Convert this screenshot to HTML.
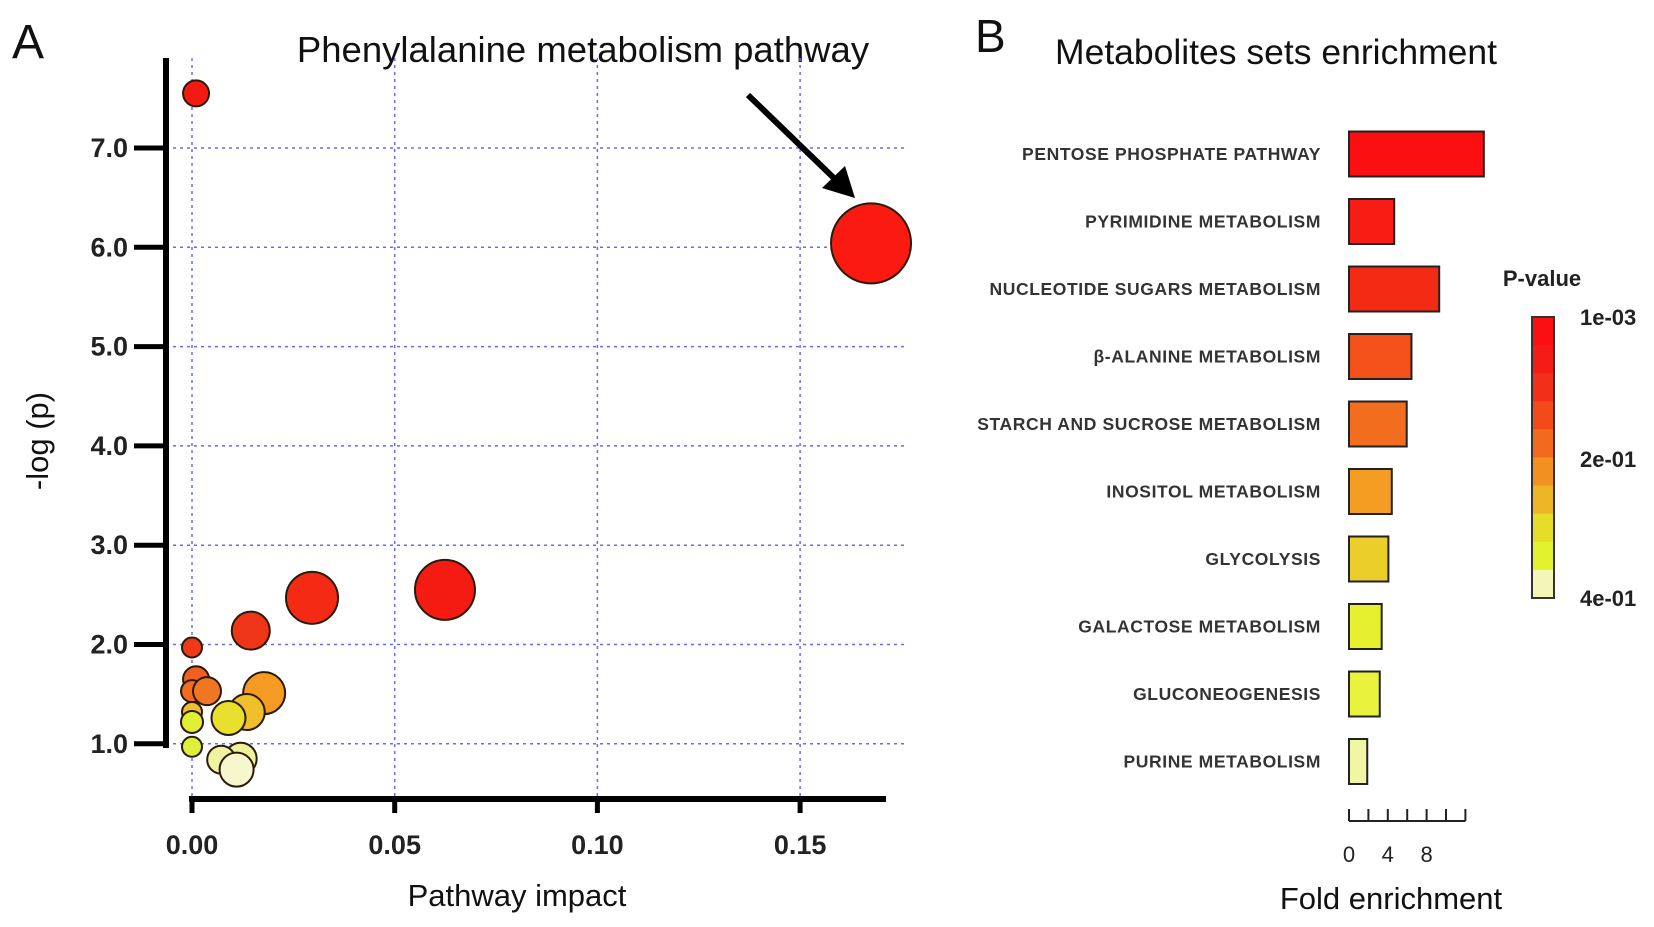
<!DOCTYPE html>
<html><head><meta charset="utf-8"><style>
html,body{margin:0;padding:0;background:#fff;}
svg{display:block;font-family:"Liberation Sans",sans-serif;}
</style></head><body>
<svg id="fig" width="1654" height="927" viewBox="0 0 1654 927">
<text x="12" y="58" font-size="48" fill="#111">A</text>
<text x="583" y="62" font-size="36.5" text-anchor="middle" fill="#111">Phenylalanine metabolism pathway</text>
<text x="975" y="52" font-size="46" fill="#111">B</text>
<text x="1276" y="64" font-size="35.5" font-weight="500" text-anchor="middle" fill="#111">Metabolites sets enrichment</text>
<g id="gA"></g>
<g id="gB"></g>
</svg>
<script>
// Panel A data
const bubX = [0.001,0.1675,0.0624,0.0296,0.0145,0.0,0.001,0.0,0.0037,0.0178,0.0135,0.009,0.0,0.0,0.0,0.012,0.0072,0.011];
const bubY = [7.55,6.04,2.55,2.47,2.14,1.97,1.65,1.53,1.53,1.51,1.32,1.26,1.32,1.22,0.97,0.85,0.84,0.74];
const bubR = [13,40,30,26,19,10,13,11,14,21,18,17,10,11,10,16,14,17];
const bubC = ["#f41a12","#fa1a12","#f51a12","#f52a14","#ef3517","#ee3a18","#f06020","#f36b1e","#f07722","#f59a22","#f0c02c","#e8e02c","#e9c030","#e0ef34","#def03a","#eef39a","#eef3a0","#f6f7cc"];
const xTicks = [0,0.05,0.1,0.15];
const xTickLabels = ["0.00","0.05","0.10","0.15"];
const yTicks = [1,2,3,4,5,6,7];
const yTickLabels = ["1.0","2.0","3.0","4.0","5.0","6.0","7.0"];
// Panel B data
const cats = ["PENTOSE PHOSPHATE PATHWAY","PYRIMIDINE METABOLISM","NUCLEOTIDE SUGARS METABOLISM","β-ALANINE METABOLISM","STARCH AND SUCROSE METABOLISM","INOSITOL METABOLISM","GLYCOLYSIS","GALACTOSE METABOLISM","GLUCONEOGENESIS","PURINE METABOLISM"];
const fold = [13.9,4.66,9.3,6.44,5.95,4.41,4.06,3.37,3.17,1.88];
const barC = ["#fb0f10","#f81c14","#f32b14","#f4501a","#f26e1e","#f39e22","#ecce2a","#e6f02e","#e9f33e","#f1f6a4"];
const fTicks = [0,2,4,6,8,10,12];
const fTickLabels = ["0","","4","","8","",""];
const cbColors = ["#fb0f10","#f41c14","#f2301a","#f34a1c","#f36a1e","#f39022","#eeb626","#e6dc2a","#e2f22e","#f3f6b8"];
const cbLabels = ["1e-03","2e-01","4e-01"];

const NS="http://www.w3.org/2000/svg";
function mk(p,t,a,txt){const e=document.createElementNS(NS,t);for(const k in a)e.setAttribute(k,a[k]);if(txt!==undefined)e.textContent=txt;p.appendChild(e);return e;}
const gA=document.getElementById('gA'), gB=document.getElementById('gB');
const sx=v=>192+v*4054, sy=v=>148+(7-v)*99.3;
xTicks.forEach(t=>{const l=mk(gA,'line',{x1:sx(t),x2:sx(t),y1:58,y2:799,stroke:'#6a6af0','stroke-width':1.5,'stroke-dasharray':'3,4'});

});
yTicks.forEach(t=>{const l=mk(gA,'line',{x1:166,x2:905,y1:sy(t),y2:sy(t),stroke:'#6a6af0','stroke-width':1.5,'stroke-dasharray':'3,4'});

});
let ya=mk(gA,'line',{x1:166,x2:166,y1:58,y2:748,stroke:'#000','stroke-width':6});


let xa=mk(gA,'line',{x1:189,x2:886,y1:799,y2:799,stroke:'#000','stroke-width':6});


yTicks.forEach((t,i)=>{mk(gA,'line',{x1:134,x2:166,y1:sy(t),y2:sy(t),stroke:'#000','stroke-width':5});
const tx=mk(gA,'text',{x:128,y:sy(t)+9,'font-size':27,'font-weight':'bold','text-anchor':'end',fill:'#222'},yTickLabels[i]);

});
xTicks.forEach((t,i)=>{mk(gA,'line',{x1:sx(t),x2:sx(t),y1:799,y2:813,stroke:'#000','stroke-width':5});
const tx=mk(gA,'text',{x:sx(t),y:854,'font-size':27,'font-weight':'bold','text-anchor':'middle',fill:'#222'},xTickLabels[i]);

});
let xt=mk(gA,'text',{x:517,y:906,'font-size':31,'font-weight':'500','text-anchor':'middle',fill:'#111'},'Pathway impact');


let yt=mk(gA,'text',{x:0,y:0,'font-size':31,'text-anchor':'middle',fill:'#111',transform:'translate(48,441) rotate(-90)'},'-log (p)');


bubX.forEach((v,i)=>{const c=mk(gA,'circle',{cx:sx(v),cy:sy(bubY[i]),r:bubR[i],fill:bubC[i],stroke:'#2a1a0a','stroke-width':2});

});
let ar=mk(gA,'line',{x1:748,y1:95,x2:838,y2:182,stroke:'#000','stroke-width':6});


mk(gA,'polygon',{points:'855,198 822,188 845,166',fill:'#000'});
const bx=v=>1349+v*9.7, by=i=>154+i*67.5;
cats.forEach((c,i)=>{const r=mk(gB,'rect',{x:1349,y:by(i)-22.5,width:bx(fold[i])-1349,height:45,fill:barC[i],stroke:'#222','stroke-width':2});


const t=mk(gB,'text',{x:1321,y:by(i)+6,'font-size':17.5,'font-weight':'bold','letter-spacing':'0.6','text-anchor':'end',fill:'#333'},c);

});
let fa=mk(gB,'line',{x1:bx(0),x2:bx(12),y1:821,y2:821,stroke:'#222','stroke-width':2});


fTicks.forEach((t,i)=>{mk(gB,'line',{x1:bx(t),x2:bx(t),y1:809,y2:821,stroke:'#222','stroke-width':2});
if(fTickLabels[i]){const tx=mk(gB,'text',{x:bx(t),y:862,'font-size':22,'text-anchor':'middle',fill:'#222'},fTickLabels[i]);

}});
let ft=mk(gB,'text',{x:1391,y:909,'font-size':31,'font-weight':'500','text-anchor':'middle',fill:'#111'},'Fold enrichment');


let pv=mk(gB,'text',{x:1542,y:286,'font-size':22,'font-weight':'bold','text-anchor':'middle',fill:'#222'},'P-value');


const cbTop=317,cbH=281,segH=cbH/cbColors.length;
cbColors.forEach((c,i)=>{const r=mk(gB,'rect',{x:1532,y:cbTop+i*segH,width:22,height:segH+0.5,fill:c});

});
mk(gB,'rect',{x:1532,y:cbTop,width:22,height:cbH,fill:'none',stroke:'#333','stroke-width':2});
[cbTop,459,cbTop+cbH].forEach((y,i)=>{const t=mk(gB,'text',{x:1580,y:y+8,'font-size':22,'font-weight':'bold',fill:'#222'},cbLabels[i]);

});
</script>
</body></html>
